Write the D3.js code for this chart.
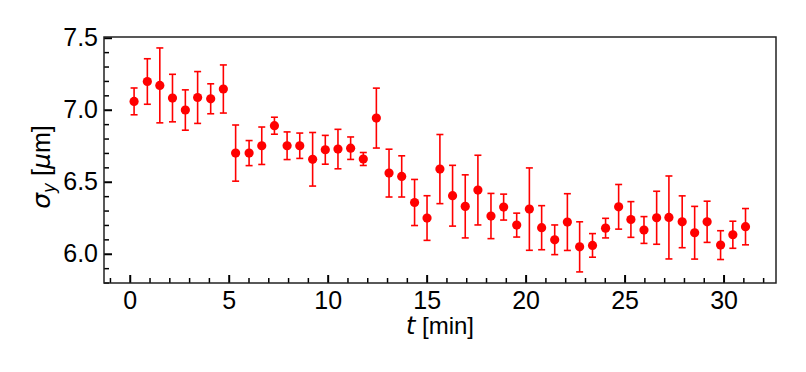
<!DOCTYPE html>
<html>
<head>
<meta charset="utf-8">
<script src="https://cdn.jsdelivr.net/npm/d3@7"></script>
<style>
  body { margin: 0; background: #fff; }
  svg text { font-family: "Liberation Sans", Arial, sans-serif; }
  .math { font-family: "DejaVu Sans", sans-serif; font-style: italic; }
</style>
</head>
<body>
<svg id="chart" width="806" height="372"></svg>
<script>
// time (min), sigma_y (um), error (um)
const times = [0.22, 0.89, 1.52, 2.16, 2.81, 3.43, 4.09, 4.73, 5.35, 6.03,
  6.67, 7.31, 7.95, 8.59, 9.24, 9.88, 10.52, 11.16, 11.80, 12.46,
  13.10, 13.74, 14.39, 15.02, 15.67, 16.31, 16.95, 17.59, 18.25, 18.89,
  19.55, 20.19, 20.81, 21.47, 22.11, 22.73, 23.38, 24.04, 24.70, 25.32,
  25.98, 26.62, 27.24, 27.91, 28.54, 29.17, 29.85, 30.47, 31.11];
const sigmaY = [7.058, 7.196, 7.169, 7.081, 6.998, 7.085, 7.076, 7.144, 6.699, 6.699,
  6.750, 6.889, 6.750, 6.750, 6.656, 6.722, 6.727, 6.733, 6.658, 6.942,
  6.560, 6.537, 6.356, 6.248, 6.588, 6.403, 6.329, 6.442, 6.262, 6.324,
  6.199, 6.310, 6.181, 6.097, 6.220, 6.048, 6.058, 6.178, 6.326, 6.238,
  6.165, 6.250, 6.252, 6.222, 6.146, 6.222, 6.060, 6.132, 6.188];
const sigmaErr = [0.093, 0.158, 0.26, 0.165, 0.14, 0.18, 0.104, 0.167, 0.195, 0.087,
  0.13, 0.059, 0.096, 0.088, 0.186, 0.1, 0.137, 0.078, 0.045, 0.208,
  0.166, 0.143, 0.16, 0.155, 0.24, 0.211, 0.219, 0.242, 0.157, 0.09,
  0.083, 0.286, 0.153, 0.103, 0.197, 0.174, 0.082, 0.068, 0.155, 0.124,
  0.093, 0.184, 0.288, 0.18, 0.183, 0.143, 0.1, 0.094, 0.126];
const xTicks = [0, 5, 10, 15, 20, 25, 30];
const yTicks = [6.0, 6.5, 7.0, 7.5];

const svg = d3.select("#chart");
const margin = { top: 37, right: 30, bottom: 89, left: 104 };
const width = +svg.attr("width") - margin.left - margin.right;
const height = +svg.attr("height") - margin.top - margin.bottom;

const x = d3.scaleLinear().domain([-1.3, 32.65]).range([0, width]);
const y = d3.scaleLinear().domain([5.797, 7.505]).range([height, 0]);

const g = svg.append("g")
    .attr("transform", "translate(" + margin.left + "," + margin.top + ")");

// minor ticks
const xMinor = d3.range(-1, 33, 1).filter(v => v % 5 !== 0);
const yMinor = d3.range(58, 76, 1).map(v => v / 10).filter(v => Math.round(v * 10) % 5 !== 0);

g.append("g")
    .attr("transform", "translate(0," + height + ")")
    .call(d3.axisBottom(x).tickValues(xMinor).tickSize(-5).tickFormat(""))
    .call(a => a.select(".domain").remove())
    .call(a => a.selectAll("line").attr("stroke", "#000").attr("stroke-width", 1.5));

g.append("g")
    .call(d3.axisLeft(y).tickValues(yMinor).tickSize(-5).tickFormat(""))
    .call(a => a.select(".domain").remove())
    .call(a => a.selectAll("line").attr("stroke", "#000").attr("stroke-width", 1.5));

// major ticks
g.append("g")
    .attr("transform", "translate(0," + height + ")")
    .call(d3.axisBottom(x).tickValues(xTicks).tickSize(-8).tickPadding(8).tickFormat(d3.format("d")))
    .call(a => a.select(".domain").remove())
    .call(a => a.selectAll("line").attr("stroke", "#000").attr("stroke-width", 2))
    .call(a => a.selectAll("text").attr("font-size", 25).attr("fill", "#000"));

g.append("g")
    .call(d3.axisLeft(y).tickValues(yTicks).tickSize(-8).tickPadding(6).tickFormat(d3.format(".1f")))
    .call(a => a.select(".domain").remove())
    .call(a => a.selectAll("line").attr("stroke", "#000").attr("stroke-width", 2))
    .call(a => a.selectAll("text").attr("font-size", 25).attr("fill", "#000"));

// frame
g.append("rect")
    .attr("width", width)
    .attr("height", height)
    .attr("fill", "none")
    .attr("stroke", "#222")
    .attr("stroke-width", 1.5);

// error bars
const pts = times.map((t, i) => ({ t: t, v: sigmaY[i], e: sigmaErr[i] }));
const bars = g.append("g").attr("stroke", "#ff0000").attr("stroke-width", 1.6);

bars.selectAll(".eb")
    .data(pts)
    .enter().append("line")
    .attr("x1", d => x(d.t))
    .attr("x2", d => x(d.t))
    .attr("y1", d => y(d.v - d.e))
    .attr("y2", d => y(d.v + d.e));

bars.selectAll(".capTop")
    .data(pts)
    .enter().append("line")
    .attr("x1", d => x(d.t) - 3.5)
    .attr("x2", d => x(d.t) + 3.5)
    .attr("y1", d => y(d.v + d.e))
    .attr("y2", d => y(d.v + d.e));

bars.selectAll(".capBot")
    .data(pts)
    .enter().append("line")
    .attr("x1", d => x(d.t) - 3.5)
    .attr("x2", d => x(d.t) + 3.5)
    .attr("y1", d => y(d.v - d.e))
    .attr("y2", d => y(d.v - d.e));

g.selectAll("circle")
    .data(pts)
    .enter().append("circle")
    .attr("cx", d => x(d.t))
    .attr("cy", d => y(d.v))
    .attr("r", 4.6)
    .attr("fill", "#ff0000");

// axis labels
const xl = svg.append("text")
    .attr("x", margin.left + width / 2)
    .attr("y", 334)
    .attr("text-anchor", "middle")
    .attr("font-size", 24)
    .attr("fill", "#000");
xl.append("tspan").attr("class", "math").text("t");
xl.append("tspan").text(" [min]");

const yl = svg.append("text")
    .attr("transform", "translate(50,167) rotate(-90)")
    .attr("text-anchor", "middle")
    .attr("font-size", 25)
    .attr("fill", "#000");
yl.append("tspan").attr("class", "math").text("σ");
yl.append("tspan").attr("class", "math").attr("font-size", 17).attr("dy", 5).text("y");
yl.append("tspan").attr("dy", -5).text(" [");
yl.append("tspan").attr("class", "math").text("μ");
yl.append("tspan").text("m]");
</script>
</body>
</html>
